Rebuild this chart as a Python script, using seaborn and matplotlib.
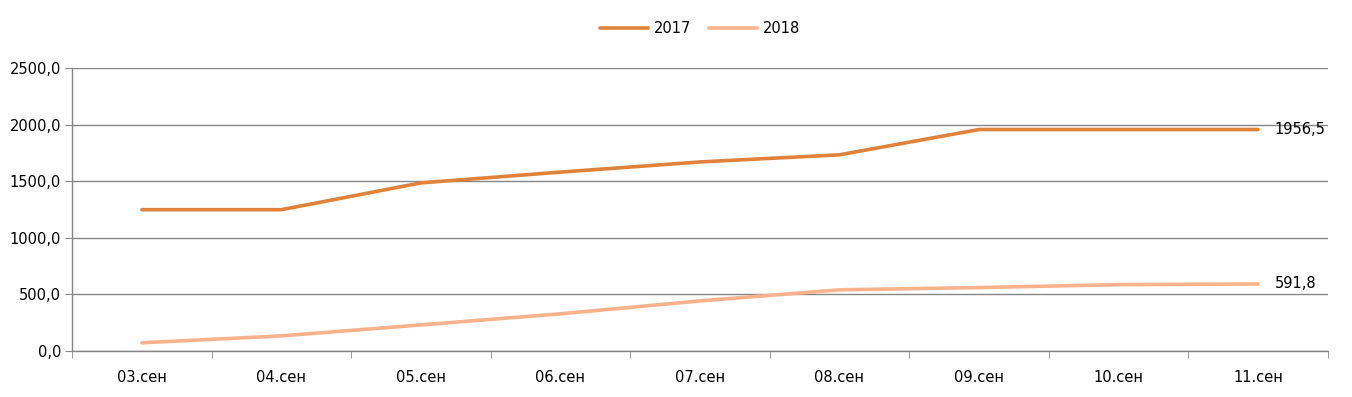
import pandas as pd
import seaborn as sns
import matplotlib.pyplot as plt
from matplotlib.ticker import FixedLocator, FuncFormatter

# Data
dates = ["03.сен", "04.сен", "05.сен", "06.сен", "07.сен", "08.сен", "09.сен", "10.сен", "11.сен"]
values_2017 = [1248, 1248, 1485, 1580, 1670, 1733, 1956.5, 1956.5, 1956.5]
values_2018 = [72, 133, 230, 328, 442, 540, 560, 586, 591.8]

df = pd.DataFrame({
    "date": dates * 2,
    "value": values_2017 + values_2018,
    "year": ["2017"] * len(dates) + ["2018"] * len(dates),
})

sns.set_style("white")
plt.rcParams['font.family'] = ['Liberation Sans Narrow', 'DejaVu Sans']

fig = plt.figure(figsize=(13.52, 3.97), dpi=100)
ax = fig.add_axes([0.0533, 0.116, 0.9287, 0.7127])

palette = {"2017": "#E0823A", "2018": "#F8B38C"}
sns.lineplot(data=df, x="date", y="value", hue="year", palette=palette,
             linewidth=2.6, ax=ax, sort=False)

ax.set_xlim(-0.5, len(dates) - 0.5)
ax.set_ylim(0, 2500)
ax.set_yticks([0, 500, 1000, 1500, 2000, 2500])
ax.yaxis.set_major_formatter(FuncFormatter(lambda v, p: f"{v:.1f}".replace(".", ",")))
ax.yaxis.grid(True, color="#868686", linewidth=1)
ax.set_axisbelow(True)

# category boundaries as tick marks on x axis
ax.xaxis.set_minor_locator(FixedLocator([i - 0.5 for i in range(len(dates) + 1)]))
ax.tick_params(axis="x", which="major", length=0, labelsize=10.5, labelcolor="black", pad=14)
ax.tick_params(axis="x", which="minor", length=5, color="#868686", direction="out", bottom=True)
ax.tick_params(axis="y", which="major", length=5, color="#868686", direction="out", left=True,
               labelsize=10.5, labelcolor="black", pad=3)

for s in ["top", "right"]:
    ax.spines[s].set_visible(False)
for s in ["left", "bottom"]:
    ax.spines[s].set_color("#868686")
    ax.spines[s].set_linewidth(1)

ax.set_xlabel("")
ax.set_ylabel("")

# end-point labels
ax.annotate("1956,5", (len(dates) - 1, values_2017[-1]), xytext=(12, 0), textcoords="offset points",
            va="center", ha="left", fontsize=10.5, color="black")
ax.annotate("591,8", (len(dates) - 1, values_2018[-1]), xytext=(12, 0), textcoords="offset points",
            va="center", ha="left", fontsize=10.5, color="black")

leg = ax.legend(loc="center", bbox_to_anchor=(0.5, 1.14), ncol=2, frameon=False,
                fontsize=10.5, handlelength=3.3, columnspacing=1.2, handletextpad=0.4)
for t in leg.get_texts():
    t.set_color("black")

fig.savefig("out.png", dpi=100)
